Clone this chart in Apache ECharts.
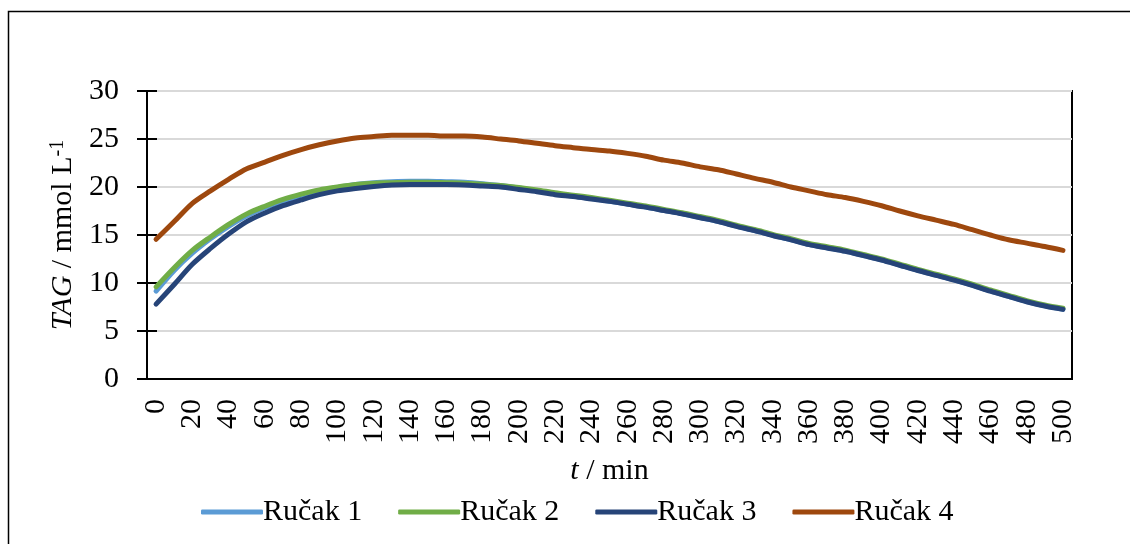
<!DOCTYPE html>
<html>
<head>
<meta charset="utf-8">
<title>TAG</title>
<script src="https://cdn.jsdelivr.net/npm/echarts@6/dist/echarts.min.js"></script>
<style>
    html, body { margin: 0; padding: 0; background: #fff; }
    #myChartArea { width: 1130px; height: 544px; }
</style>
</head>
<body>
<div id="myChartArea"></div>
<script>
// vrijeme, min (0 - 500, korak 10)
var vrijeme = [];
for (var t = 0; t <= 500; t += 10) {
    vrijeme.push(String(t));
}

var nazivi = ['Ručak 1', 'Ručak 2', 'Ručak 3', 'Ručak 4'];
var boje = ['#5B9BD5', '#70AD47', '#264478', '#9E480E'];

// TAG / mmol L-1, ocitano sa slike
var rucak1 = [9.15, 11.3, 13.1, 14.6, 15.9, 17.0, 17.85, 18.5, 19.1, 19.6,
    19.95, 20.25, 20.45, 20.55, 20.6, 20.6, 20.55, 20.5, 20.35, 20.15,
    19.9, 19.6, 19.3, 19.05, 18.8, 18.52, 18.22, 17.92, 17.57, 17.22,
    16.82, 16.42, 15.92, 15.47, 14.97, 14.52, 14.02, 13.67, 13.32, 12.87,
    12.42, 11.87, 11.32, 10.82, 10.32, 9.77, 9.17, 8.62, 8.07, 7.62, 7.27];
var rucak2 = [9.6, 11.6, 13.4, 14.8, 16.1, 17.2, 18.0, 18.7, 19.25, 19.7,
    20.0, 20.25, 20.4, 20.45, 20.5, 20.5, 20.45, 20.4, 20.3, 20.15,
    19.95, 19.7, 19.4, 19.15, 18.9, 18.62, 18.32, 18.02, 17.67, 17.32,
    16.92, 16.52, 16.02, 15.57, 15.07, 14.62, 14.12, 13.77, 13.42, 12.97,
    12.52, 11.97, 11.42, 10.92, 10.42, 9.87, 9.27, 8.72, 8.17, 7.72, 7.37];
var rucak3 = [7.8, 9.85, 11.95, 13.6, 15.1, 16.4, 17.3, 18.05, 18.65, 19.2,
    19.6, 19.85, 20.05, 20.2, 20.25, 20.25, 20.25, 20.2, 20.1, 20.0,
    19.75, 19.5, 19.2, 19.0, 18.75, 18.5, 18.2, 17.9, 17.55, 17.2,
    16.8, 16.4, 15.9, 15.45, 14.95, 14.5, 14.0, 13.65, 13.3, 12.85,
    12.4, 11.85, 11.3, 10.8, 10.3, 9.75, 9.15, 8.6, 8.05, 7.6, 7.25];
var rucak4 = [14.55, 16.4, 18.3, 19.6, 20.8, 21.9, 22.6, 23.3, 23.9, 24.4,
    24.8, 25.1, 25.25, 25.4, 25.4, 25.4, 25.3, 25.3, 25.2, 25.0,
    24.8, 24.55, 24.3, 24.1, 23.9, 23.75, 23.5, 23.2, 22.8, 22.5,
    22.1, 21.8, 21.35, 20.9, 20.5, 20.0, 19.6, 19.2, 18.9, 18.5,
    18.05, 17.5, 17.0, 16.55, 16.1, 15.55, 15.0, 14.5, 14.15, 13.8, 13.4];

var podaci = [rucak1, rucak2, rucak3, rucak4];

var font = '"Liberation Serif", "Times New Roman", serif';
var vel = 30;

var myChart = echarts.init(document.getElementById('myChartArea'));

var series = [];
for (var i = 0; i < nazivi.length; i++) {
    series.push({
        name: nazivi[i],
        type: 'line',
        data: podaci[i],
        smooth: 0.3,
        symbol: 'none',
        lineStyle: {color: boje[i], width: 5, cap: 'round', join: 'round'},
        itemStyle: {color: boje[i]}
    });
}

var option = {
    animation: false,
    backgroundColor: '#fff',
    textStyle: {fontFamily: font, color: '#000'},
    graphic: [{
        type: 'rect',
        shape: {x: 8.5, y: 11.5, width: 1200, height: 600},
        style: {fill: 'none', stroke: '#000', lineWidth: 1.5},
        silent: true
    }],
    grid: {
        left: 147, top: 91, right: 58, bottom: 165,
        show: true, borderColor: '#000', borderWidth: 2
    },
    legend: {
        data: nazivi,
        left: 196, top: 492,
        icon: 'roundRect',
        itemWidth: 62, itemHeight: 5, itemGap: 36,
        textStyle: {fontFamily: font, fontSize: vel, color: '#000', padding: [0, 0, 0, -5]}
    },
    xAxis: [{
        type: 'category',
        data: vrijeme,
        name: '{i|t} / min',
        nameLocation: 'middle',
        nameGap: 77,
        nameTextStyle: {
            fontFamily: font, fontSize: vel, color: '#000',
            rich: {i: {fontFamily: font, fontSize: vel, fontStyle: 'italic', color: '#000'}}
        },
        axisLine: {lineStyle: {color: '#000', width: 2}},
        axisTick: {interval: 0, length: 9, lineStyle: {color: '#000', width: 2}},
        axisLabel: {interval: 1, rotate: 90, margin: 20, fontFamily: font, fontSize: vel, color: '#000'}
    }, {
        // unutarnje crtice osi x
        type: 'category',
        data: vrijeme,
        position: 'bottom',
        axisLine: {show: false},
        axisTick: {interval: 0, inside: true, length: 9, lineStyle: {color: '#000', width: 2}},
        axisLabel: {show: false}
    }],
    yAxis: [{
        type: 'value',
        min: 0, max: 30, interval: 5,
        name: '{i|TAG} / mmol L{s|-1}',
        nameLocation: 'middle',
        nameGap: 64,
        nameTextStyle: {
            fontFamily: font, fontSize: vel, color: '#000',
            rich: {
                i: {fontFamily: font, fontSize: vel, fontStyle: 'italic', color: '#000'},
                s: {fontFamily: font, fontSize: 20, color: '#000', verticalAlign: 'top', padding: [0, 0, 10, 0]}
            }
        },
        axisLine: {show: true, lineStyle: {color: '#000', width: 2}},
        axisTick: {show: true, length: 10, lineStyle: {color: '#000', width: 2}},
        axisLabel: {margin: 28, fontFamily: font, fontSize: vel, color: '#000'},
        splitLine: {lineStyle: {color: '#d9d9d9', width: 2}}
    }, {
        // unutarnje crtice osi y
        type: 'value',
        min: 0, max: 30, interval: 5,
        position: 'left',
        axisLine: {show: false},
        axisTick: {show: true, inside: true, length: 10, lineStyle: {color: '#000', width: 2}},
        axisLabel: {show: false},
        splitLine: {show: false}
    }],
    series: series
};

myChart.setOption(option);
</script>
</body>
</html>
